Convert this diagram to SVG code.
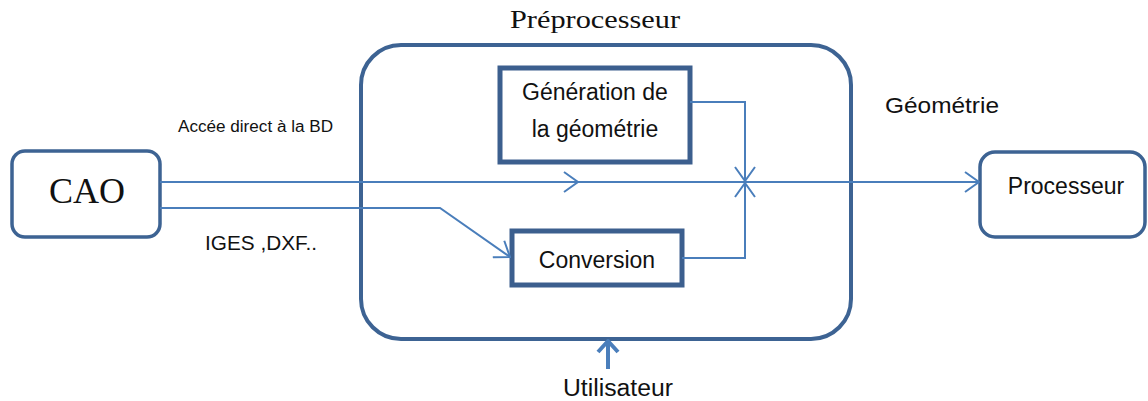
<svg xmlns="http://www.w3.org/2000/svg" width="1148" height="401" viewBox="0 0 1148 401">
<defs>
<style>
.box{fill:#fff;stroke:#3d6393;}
.sq{fill:#fff;stroke:#3c5f8e;stroke-width:5;}
.ln{fill:none;stroke:#4a7ebb;stroke-width:2;}
.sans{font-family:"Liberation Sans",Arial,sans-serif;fill:#111;}
.serif{font-family:"Liberation Serif","Times New Roman",serif;fill:#111;}
</style>
<marker id="arr" markerUnits="userSpaceOnUse" viewBox="0 0 16 22" refX="15" refY="11" markerWidth="16" markerHeight="22" orient="auto">
<path d="M1,1 L15,11 L1,21" fill="none" stroke="#4a7ebb" stroke-width="2"/>
</marker>
</defs>
<rect width="1148" height="401" fill="#fff"/>
<g id="preprocesseur">
<rect class="box" x="361" y="45" width="490" height="294" rx="40" stroke-width="4"/>
<text class="serif" x="595" y="28" font-size="26" text-anchor="middle" textLength="170" lengthAdjust="spacingAndGlyphs">Préprocesseur</text>
</g>
<g id="cao">
<rect class="box" x="12" y="151" width="148" height="86" rx="13" stroke-width="3.5"/>
<text class="serif" x="87" y="203" font-size="36" text-anchor="middle">CAO</text>
</g>
<g id="processeur">
<rect class="box" x="980" y="152" width="165" height="85" rx="15" stroke-width="3.5"/>
<text class="sans" x="1066" y="194" font-size="23" text-anchor="middle">Processeur</text>
</g>
<g id="generation">
<rect class="sq" x="500" y="68" width="190" height="94"/>
<text class="sans" x="595" y="100" font-size="23" text-anchor="middle">Génération de</text>
<text class="sans" x="595" y="137" font-size="23" text-anchor="middle">la géométrie</text>
</g>
<g id="conversion">
<rect class="sq" x="512" y="231" width="170" height="54"/>
<text class="sans" x="597" y="268" font-size="23" text-anchor="middle">Conversion</text>
</g>
<g id="connectors">
<path class="ln" d="M160,182 H979" marker-end="url(#arr)"/>
<path class="ln" d="M564,172 L578,182 L564,192"/>
<path class="ln" d="M160,208 H440 L510,257" marker-end="url(#arr)"/>
<path class="ln" d="M690,102 H745 V181" marker-end="url(#arr)"/>
<path class="ln" d="M682,258 H745 V183" marker-end="url(#arr)"/>
<path d="M608,369 V342" fill="none" stroke="#4a7ebb" stroke-width="4"/>
<path d="M598,352 L608,341 L618,352" fill="none" stroke="#4a7ebb" stroke-width="4" stroke-linejoin="round"/>
</g>
<g id="labels">
<text class="sans" x="178" y="132" font-size="16" textLength="155" lengthAdjust="spacingAndGlyphs">Accée direct à la BD</text>
<text class="sans" x="205" y="250" font-size="21" textLength="112" lengthAdjust="spacingAndGlyphs">IGES ,DXF..</text>
<text class="sans" x="885" y="113" font-size="22" textLength="114" lengthAdjust="spacingAndGlyphs">Géométrie</text>
<text class="sans" x="618" y="396" font-size="23" text-anchor="middle" textLength="110" lengthAdjust="spacingAndGlyphs">Utilisateur</text>
</g>
</svg>
